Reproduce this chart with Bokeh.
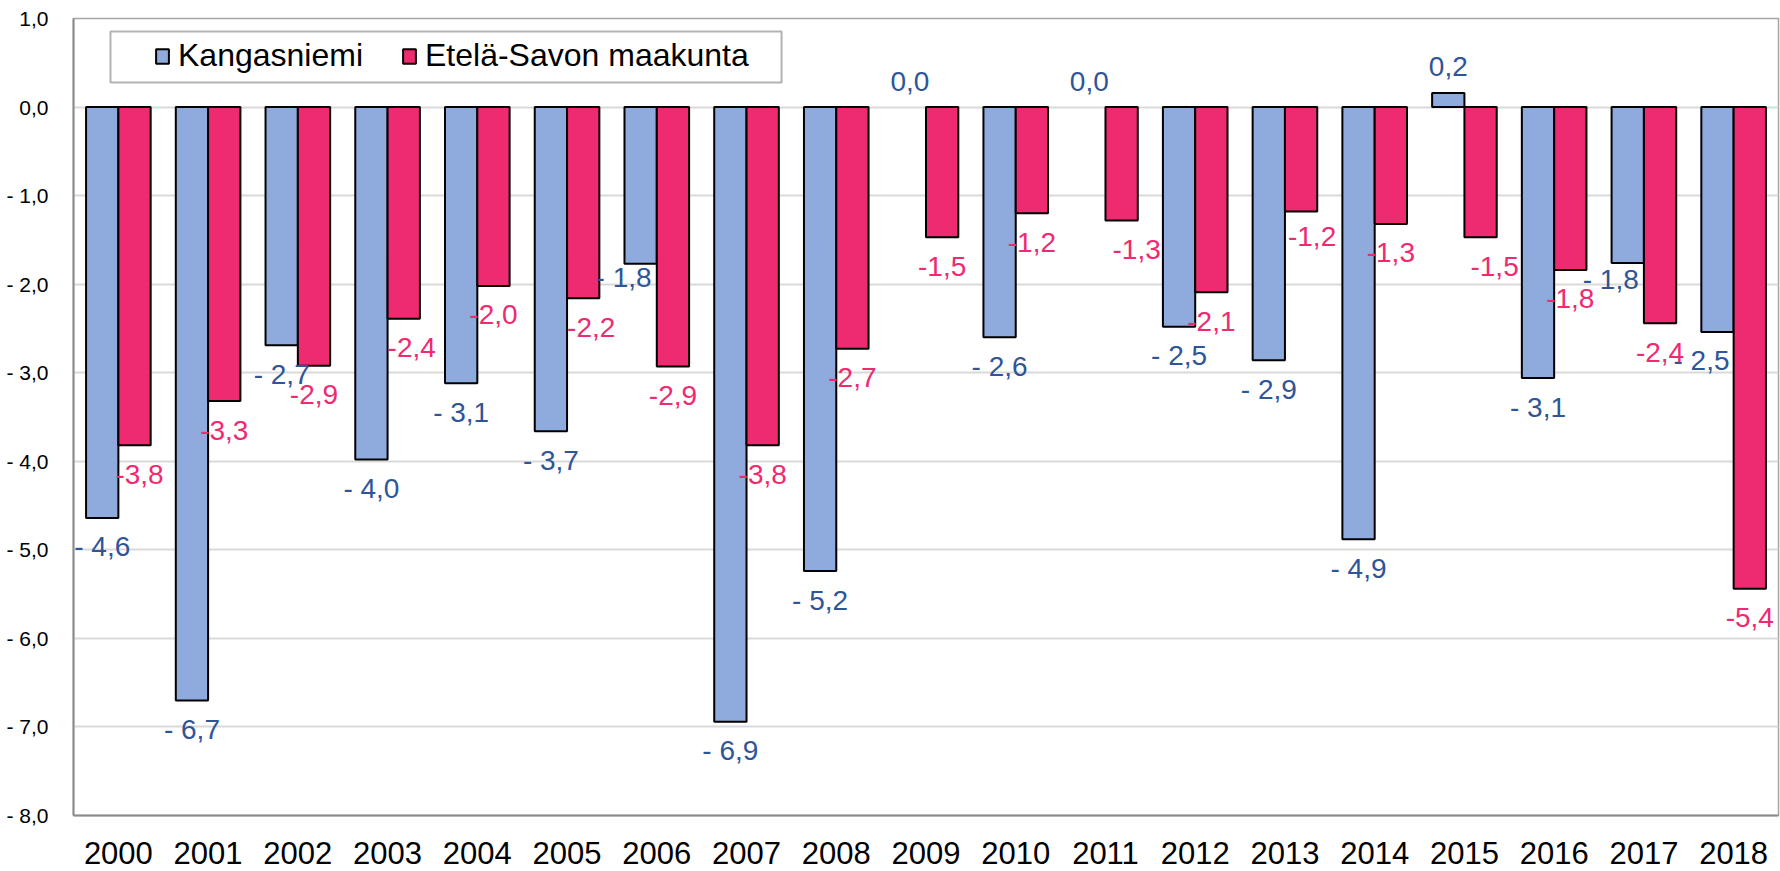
from bokeh.plotting import figure
from bokeh.models import (Range1d, FactorRange, FixedTicker, ColumnDataSource,
                          Legend, LegendItem, BoxAnnotation)
from bokeh.transform import dodge
from bokeh.embed import file_html
from bokeh.resources import INLINE
from bokeh.core.properties import value

# ---------------- data ----------------
years = [str(y) for y in range(2000, 2019)]
kangasniemi = [-4.64, -6.70, -2.69, -3.98, -3.12, -3.66, -1.77, -6.94, -5.24, 0.0,
               -2.60, 0.0, -2.48, -2.86, -4.88, 0.16, -3.06, -1.76, -2.54]
etela_savo = [-3.82, -3.32, -2.92, -2.39, -2.02, -2.16, -2.93, -3.82, -2.73, -1.47,
              -1.20, -1.28, -2.09, -1.18, -1.32, -1.47, -1.84, -2.44, -5.44]
series_names = ["Kangasniemi", "Etelä-Savon maakunta"]
y_ticks = [1, 0, -1, -2, -3, -4, -5, -6, -7, -8]
y_tick_labels = ["1,0", "0,0", "- 1,0", "- 2,0", "- 3,0", "- 4,0",
                 "- 5,0", "- 6,0", "- 7,0", "- 8,0"]

# label nudges (screen px) where the original labels were moved by hand
nudge_k = {"2006": (-17, -15), "2017": (-17, -12), "2018": (-16, 0)}
nudge_e = {"2000": (5, 0), "2003": (8, 0), "2005": (8, 0), "2011": (15, 0),
           "2013": (11, -4), "2015": (14, 0)}

BLUE = "#8FAADC"
PINK = "#EE2A70"
BLUE_TXT = "#2F5597"
PINK_TXT = "#EE2A70"
FONT = "Liberation Sans"


def fmt_k(v):
    s = f"{abs(v):.1f}".replace(".", ",")
    return ("- " + s) if round(v, 1) < 0 else s


def fmt_e(v):
    s = f"{abs(v):.1f}".replace(".", ",")
    return ("-" + s) if round(v, 1) < 0 else s


def offsets(vals, nudges):
    xo, yo = [], []
    for yr, v in zip(years, vals):
        dx, dy = nudges.get(yr, (0, 0))
        base = 29 if v < 0 else -26
        xo.append(dx)
        yo.append(base + dy)
    return xo, yo


kxo, kyo = offsets(kangasniemi, nudge_k)
exo, eyo = offsets(etela_savo, nudge_e)

src = ColumnDataSource(dict(
    year=years, k=kangasniemi, e=etela_savo,
    klab=[fmt_k(v) for v in kangasniemi], elab=[fmt_e(v) for v in etela_savo],
    kxo=kxo, kyo=kyo, exo=exo, eyo=eyo,
    kline=[0 if v == 0 else 1 for v in kangasniemi],
    eline=[0 if v == 0 else 1 for v in etela_savo],
))

p = figure(width=1780, height=871, output_backend="svg", toolbar_location=None,
           x_range=FactorRange(factors=years), y_range=Range1d(-8, 1),
           min_border_left=73, min_border_right=2, min_border_top=18,
           min_border_bottom=56)

p.background_fill_color = "white"
p.border_fill_color = "white"
p.outline_line_color = "#a6a6a6"
p.outline_line_width = 1.5

BW = 0.36
rk = p.vbar(x=dodge("year", -BW / 2, range=p.x_range), top="k", bottom=0, width=BW,
            source=src, fill_color=BLUE, line_color="black", line_width=2,
            line_alpha="kline")
re = p.vbar(x=dodge("year", BW / 2, range=p.x_range), top="e", bottom=0, width=BW,
            source=src, fill_color=PINK, line_color="black", line_width=2,
            line_alpha="eline")

p.text(x=dodge("year", -BW / 2, range=p.x_range), y="k", text="klab", source=src,
       x_offset="kxo", y_offset="kyo", text_align="center", text_baseline="middle",
       text_font=value(FONT), text_font_size="28px", text_color=BLUE_TXT)
p.text(x=dodge("year", BW / 2, range=p.x_range), y="e", text="elab", source=src,
       x_offset="exo", y_offset="eyo", text_align="center", text_baseline="middle",
       text_font=value(FONT), text_font_size="28px", text_color=PINK_TXT)

# axes
p.xaxis.major_label_text_font = FONT
p.xaxis.major_label_text_font_size = "31px"
p.xaxis.major_label_text_color = "black"
p.xaxis.major_label_standoff = 20
p.xaxis.major_tick_line_color = None
p.xaxis.minor_tick_line_color = None
p.xaxis.axis_line_color = "#8c8c8c"
p.xaxis.axis_line_width = 2

p.yaxis.ticker = FixedTicker(ticks=y_ticks)
p.yaxis.major_label_overrides = {t: l for t, l in zip(y_ticks, y_tick_labels)}
p.yaxis.major_label_text_font = FONT
p.yaxis.major_label_text_font_size = "21px"
p.yaxis.major_label_text_color = "black"
p.yaxis.major_label_standoff = 19
p.yaxis.major_tick_line_color = None
p.yaxis.minor_tick_line_color = None
p.yaxis.axis_line_color = "#8c8c8c"
p.yaxis.axis_line_width = 2

p.xgrid.grid_line_color = None
p.ygrid.ticker = FixedTicker(ticks=y_ticks)
p.ygrid.grid_line_color = "#d9d9d9"
p.ygrid.grid_line_width = 2

# legend frame
box = BoxAnnotation(left=0.412, right=7.89, top=0.853, bottom=0.277,
                    fill_color="white", fill_alpha=1.0,
                    line_color="black", line_width=2, level="overlay")
p.add_layout(box)

legend = Legend(items=[LegendItem(label=series_names[0], renderers=[rk], index=0),
                       LegendItem(label=series_names[1], renderers=[re], index=0)],
                orientation="horizontal", location=(81, 741),
                padding=0, margin=0, spacing=38, label_standoff=8,
                glyph_width=16, glyph_height=18, label_height=18,
                label_text_font=FONT, label_text_font_size="32px",
                label_text_color="black",
                border_line_color=None, background_fill_alpha=0)
p.add_layout(legend, "center")

open("out.html", "w").write(file_html(p, INLINE))
